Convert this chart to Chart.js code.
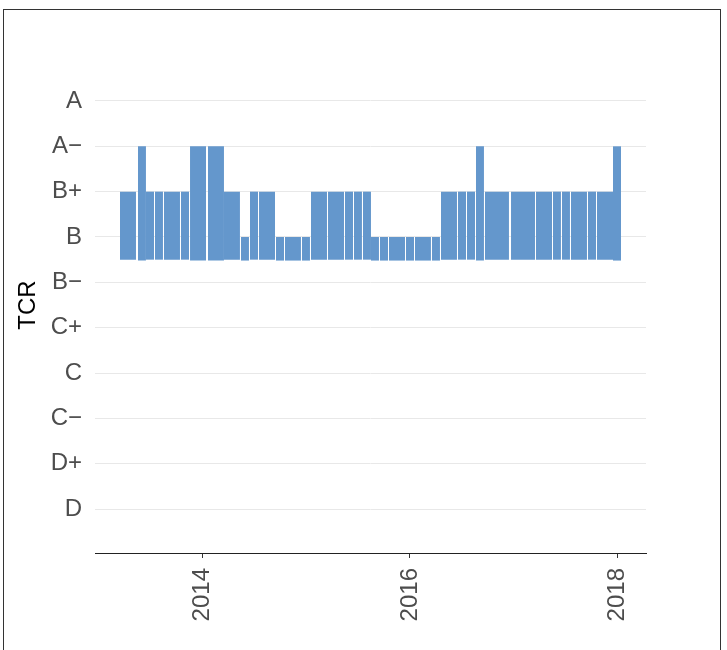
<!DOCTYPE html>
<html>
<head>
<meta charset="utf-8">
<script src="https://cdn.jsdelivr.net/npm/chart.js@4"></script>
<style>
  html, body { margin: 0; padding: 0; background: #fff; }
  #wrap { position: relative; width: 727px; height: 650px; overflow: hidden; }
  #frame { position: absolute; left: 3px; top: 9px; width: 718px; height: 700px; border: 1px solid #333; box-sizing: border-box; }
  canvas { position: absolute; left: 0; top: 0; }
</style>
</head>
<body>
<div id="wrap">
  <div id="frame"></div>
  <canvas id="chart" width="727" height="650"></canvas>
</div>
<script>
// rating scale, low to high
const grades = ['D', 'D+', 'C\u2212', 'C', 'C+', 'B\u2212', 'B', 'B+', 'A\u2212', 'A'];
const yearTicks = [2014, 2016, 2018];

// each rating period: start and end (decimal years), rating, and lower edge
const starts = [2013.205, 2013.378, 2013.455, 2013.542, 2013.629, 2013.793, 2013.880, 2014.053, 2014.207,
  2014.371, 2014.458, 2014.545, 2014.708, 2014.795, 2014.959, 2015.046, 2015.210, 2015.373, 2015.460,
  2015.547, 2015.624, 2015.711, 2015.798, 2015.961, 2016.048, 2016.212, 2016.299, 2016.463, 2016.549,
  2016.636, 2016.723, 2016.974, 2017.214, 2017.378, 2017.465, 2017.552, 2017.716, 2017.802, 2017.957];
const ends = [2013.359, 2013.455, 2013.533, 2013.619, 2013.783, 2013.870, 2014.034, 2014.207, 2014.361,
  2014.448, 2014.535, 2014.699, 2014.786, 2014.949, 2015.036, 2015.200, 2015.364, 2015.451, 2015.537,
  2015.624, 2015.701, 2015.788, 2015.952, 2016.039, 2016.202, 2016.289, 2016.453, 2016.540, 2016.627,
  2016.713, 2016.954, 2017.205, 2017.369, 2017.455, 2017.542, 2017.706, 2017.793, 2017.957, 2018.034];
const ratings = ['B+', 'A\u2212', 'B+', 'B+', 'B+', 'B+', 'A\u2212', 'A\u2212', 'B+',
  'B', 'B+', 'B+', 'B', 'B', 'B', 'B+', 'B+', 'B+', 'B+',
  'B+', 'B', 'B', 'B', 'B', 'B', 'B', 'B+', 'B+', 'B+',
  'A\u2212', 'B+', 'B+', 'B+', 'B+', 'B+', 'B+', 'B+', 'B+', 'A\u2212'];
const lows = [6.5, 6.48, 6.5, 6.5, 6.5, 6.5, 6.48, 6.48, 6.5,
  6.48, 6.5, 6.5, 6.48, 6.48, 6.48, 6.5, 6.5, 6.5, 6.5,
  6.5, 6.48, 6.48, 6.48, 6.48, 6.48, 6.48, 6.5, 6.5, 6.5,
  6.48, 6.5, 6.5, 6.5, 6.5, 6.5, 6.5, 6.5, 6.5, 6.48];

const barColor = '#6497cc';

Chart.defaults.font.family = '"Liberation Sans", Arial, sans-serif';

// one filled segment per rating period
const datasets = starts.map((s, i) => {
  const v = grades.indexOf(ratings[i]) + 1;
  return {
    data: [{ x: s, y: v }, { x: ends[i], y: v }],
    backgroundColor: barColor,
    borderWidth: 0,
    pointRadius: 0,
    fill: { value: lows[i] }
  };
});

new Chart(document.getElementById('chart'), {
  type: 'line',
  data: { datasets: datasets },
  options: {
    responsive: false,
    animation: false,
    layout: { padding: { left: 0, right: 81, top: 57, bottom: 0 } },
    plugins: { legend: { display: false }, tooltip: { enabled: false } },
    scales: {
      x: {
        type: 'linear',
        min: 2012.964,
        max: 2018.275,
        afterBuildTicks: (scale) => { scale.ticks = yearTicks.map(v => ({ value: v })); },
        afterFit: (scale) => { scale.height = 97; },
        ticks: {
          autoSkip: false,
          minRotation: 90,
          maxRotation: 90,
          padding: 10,
          color: '#4d4d4d',
          font: { size: 24 },
          callback: (v) => String(v)
        },
        grid: { drawOnChartArea: false, tickLength: 5, color: '#333', lineWidth: 1 },
        border: { display: true, color: '#222', width: 1 }
      },
      y: {
        type: 'linear',
        min: 0.03,
        max: 10.97,
        afterBuildTicks: (scale) => { scale.ticks = grades.map((g, i) => ({ value: i + 1 })); },
        afterFit: (scale) => { scale.width = 95; },
        ticks: {
          autoSkip: false,
          padding: 13,
          color: '#4d4d4d',
          font: { size: 24 },
          callback: (v) => grades[Math.round(v) - 1]
        },
        grid: { color: '#e8e8e8', lineWidth: 1, drawTicks: false },
        border: { display: false },
        title: {
          display: true,
          text: 'TCR',
          color: '#000',
          font: { size: 24 },
          padding: { top: 14, bottom: 0 }
        }
      }
    }
  }
});
</script>
</body>
</html>
